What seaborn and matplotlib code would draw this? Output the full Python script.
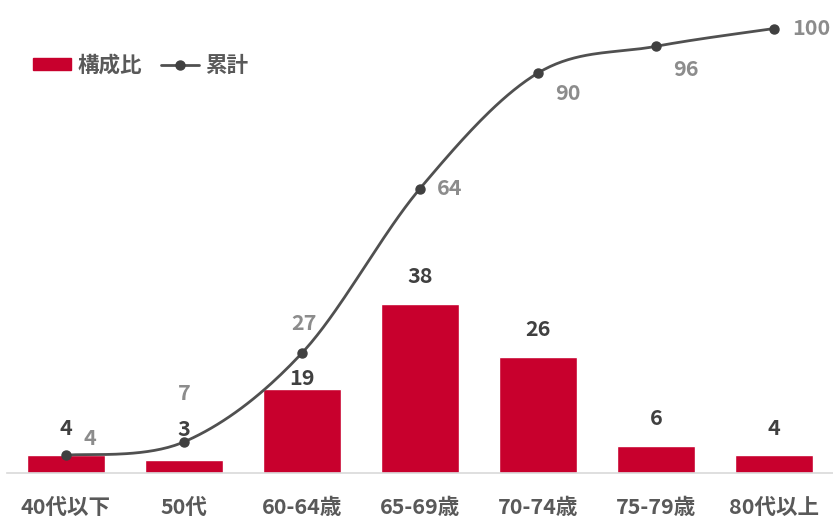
import numpy as np
import pandas as pd
import seaborn as sns
import matplotlib.pyplot as plt
from matplotlib.lines import Line2D
from matplotlib.patches import Patch

categories = ["40代以下", "50代", "60-64歳", "65-69歳", "70-74歳", "75-79歳", "80代以上"]
ratio = [4, 3, 19, 38, 26, 6, 4]
cumulative = [4, 7, 27, 64, 90, 96, 100]

sns.set_theme(style="white")
plt.rcParams["font.family"] = ["Noto Sans CJK JP", "DejaVu Sans"]

bar_color = "#C8002D"
line_color = "#505050"
text_color = "#595959"
fs = 15.5

df = pd.DataFrame({"category": categories, "ratio": ratio, "cumulative": cumulative})

fig = plt.figure(figsize=(8.33, 5.16), dpi=100)
ax = fig.add_axes([0.0084, 0.0833, 0.9916, 0.87])

sns.barplot(data=df, x="category", y="ratio", color=bar_color, width=0.66,
            saturation=1, ax=ax)

# smoothed line (Excel-style Bezier through the points)
xs = np.arange(len(cumulative), dtype=float)
ys = np.array(cumulative, dtype=float)
px = np.concatenate([[xs[0]], xs, [xs[-1]]])
py = np.concatenate([[ys[0]], ys, [ys[-1]]])
cx, cy = [], []
t = np.linspace(0, 1, 40)
for i in range(1, len(xs)):
    p0 = np.array([px[i], py[i]])
    p3 = np.array([px[i + 1], py[i + 1]])
    p1 = p0 + (p3 - np.array([px[i - 1], py[i - 1]])) / 6
    p2 = p3 - (np.array([px[i + 2], py[i + 2]]) - p0) / 6
    for tt in t:
        pt = ((1 - tt) ** 3) * p0 + 3 * ((1 - tt) ** 2) * tt * p1 + 3 * (1 - tt) * tt ** 2 * p2 + tt ** 3 * p3
        cx.append(pt[0])
        cy.append(pt[1])
ax.plot(cx, cy, color=line_color, lw=2, zorder=3)
ax.plot(xs, ys, "o", color="#404040", ms=6.5, zorder=4)

ax.set_xlim(-0.5, 6.5)
ax.set_ylim(0, 101)
ax.set_xlabel("")
ax.set_ylabel("")
ax.set_yticks([])
for s in ["left", "right", "top"]:
    ax.spines[s].set_visible(False)
ax.spines["bottom"].set_color("#D9D9D9")
ax.spines["bottom"].set_linewidth(1.2)
ax.tick_params(axis="x", length=0, pad=17, labelsize=fs, labelcolor=text_color)
for lab in ax.get_xticklabels():
    lab.set_fontweight("bold")

# bar labels
bar_offsets = [27, 30, 10, 28, 28, 28, 27]
for i, v in enumerate(ratio):
    ax.annotate(str(v), (i, v), xytext=(0, bar_offsets[i]), textcoords="offset pixels",
                ha="center", va="center", fontsize=fs, fontweight="bold", color="#404040")

cum_offsets = [(24, 17), (0, 48), (2, 30), (30, 0), (30, -21), (30, -23), (37, 0)]
for i, v in enumerate(cumulative):
    dx, dy = cum_offsets[i]
    ax.annotate(str(v), (i, v), xytext=(dx, dy), textcoords="offset pixels",
                ha="center", va="center", fontsize=fs, fontweight="bold", color="#8C8C8C")

handles = [Patch(color=bar_color, label="構成比"),
           Line2D([0], [0], color=line_color, lw=2, marker="o", ms=6.5,
                  markerfacecolor="#404040", markeredgecolor="#404040", label="累計")]
leg = fig.legend(handles=handles, loc="center left", bbox_to_anchor=(0.04, 0.874), ncol=2,
                 frameon=False, fontsize=fs, handlelength=1.75, handleheight=0.45,
                 columnspacing=0.9, handletextpad=0.3, borderaxespad=0, borderpad=0)
for txt in leg.get_texts():
    txt.set_color(text_color)
    txt.set_fontweight("bold")

fig.savefig("out.png", dpi=100)
